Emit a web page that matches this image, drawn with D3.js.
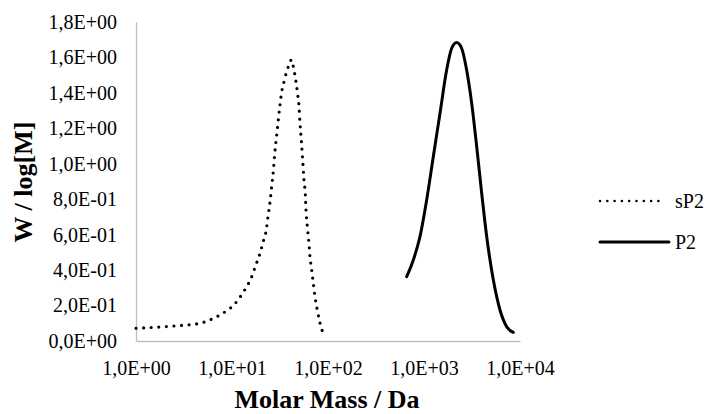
<!DOCTYPE html>
<html>
<head>
<meta charset="utf-8">
<script src="https://cdn.jsdelivr.net/npm/d3@7"></script>
<style>
  body { margin: 0; background: #fff; }
  svg text { font-family: "Liberation Serif", "Times New Roman", Times, serif; fill: #000; }
</style>
</head>
<body>
<svg id="chart" width="712" height="414"></svg>
<script>
// DATA
// ========================================================================
var xTicks = [1, 10, 100, 1000, 10000];
var yTicks = [0, 0.2, 0.4, 0.6, 0.8, 1.0, 1.2, 1.4, 1.6, 1.8];

// sP2 (dotted)
var sp2Mass = [1.0, 2.65, 4.64, 6.65, 8.8, 10.6, 11.8, 13.1, 14.4, 15.8, 16.9, 18.1, 19.3, 20.4,
               21.5, 22.6, 23.7, 24.9, 25.9, 27.0, 27.8, 29.6, 31.6, 33.2, 34.8, 37.1, 39.5, 41.5,
               44.2, 46.4, 47.9, 49.9, 51.1, 52.7, 54.5, 56.2, 58.1, 59.0, 60.9, 62.9, 64.9, 67.6,
               70.3, 73.2, 76.8, 81.2, 85.3, 93.8];
var sp2W    = [0.072, 0.086, 0.100, 0.132, 0.171, 0.207, 0.239, 0.275, 0.312, 0.354, 0.397, 0.442, 0.485, 0.529,
               0.574, 0.617, 0.702, 0.786, 0.871, 0.965, 1.050, 1.191, 1.332, 1.416, 1.463, 1.520, 1.563, 1.586,
               1.529, 1.463, 1.407, 1.322, 1.228, 1.134, 1.021, 0.909, 0.824, 0.739, 0.645, 0.570, 0.476, 0.401,
               0.325, 0.250, 0.184, 0.119, 0.072, 0.032];

// P2 (solid)
var p2Mass = [660, 774, 908, 1066, 1250, 1468, 1722, 1942, 2188, 2466, 2781, 3139, 3539, 3991, 4500, 5277, 6190, 7263, 8518];
var p2W    = [0.363, 0.457, 0.589, 0.796, 1.040, 1.285, 1.529, 1.652, 1.684, 1.652, 1.529, 1.341, 1.097, 0.833, 0.589, 0.344, 0.175, 0.081, 0.049];

var seriesNames = ["sP2", "P2"];
// ========================================================================

var AXIS_COLOR = "#bfbfbf";
var FONT = "'Liberation Serif', 'Times New Roman', Times, serif";
var TICK_SIZE = "20px";
var TITLE_SIZE = "26px";

function sciLabel(v) {
  if (v === 0) return "0,0E+00";
  var e = Math.floor(Math.log10(v) + 1e-9);
  var m = (v / Math.pow(10, e)).toFixed(1).replace(".", ",");
  var sign = e < 0 ? "-" : "+";
  var ae = Math.abs(e);
  return m + "E" + sign + (ae < 10 ? "0" + ae : ae);
}

var svg = d3.select("#chart");

var x = d3.scaleLog().domain([1, 10000]).range([136, 520]);
var y = d3.scaleLinear().domain([0, 1.8]).range([341, 22]);

// Axes
var yAxis = svg.append("g")
    .attr("transform", "translate(136,0)")
    .call(d3.axisLeft(y).tickValues(yTicks).tickSize(0).tickPadding(19).tickFormat(sciLabel));
var xAxis = svg.append("g")
    .attr("transform", "translate(0,341)")
    .call(d3.axisBottom(x).tickValues(xTicks).tickSize(0).tickPadding(20).tickFormat(sciLabel));

[xAxis, yAxis].forEach(function (g) {
  g.attr("font-family", null).attr("font-size", null);
  g.select(".domain").attr("stroke", AXIS_COLOR).attr("stroke-width", 1.3);
  g.selectAll("text").attr("fill", "#000")
    .style("font-size", TICK_SIZE)
    .style("font-family", FONT);
});

// Curves
var line = d3.line()
    .x(function (d) { return x(d[0]); })
    .y(function (d) { return y(d[1]); })
    .curve(d3.curveMonotoneX);

var sp2Data = d3.zip(sp2Mass, sp2W);
var p2Data = d3.zip(p2Mass, p2W);

svg.append("path")
    .datum(sp2Data)
    .attr("d", line)
    .attr("fill", "none")
    .attr("stroke", "#000")
    .attr("stroke-width", 3.2)
    .attr("stroke-linecap", "round")
    .attr("stroke-dasharray", "0,7.6");

svg.append("path")
    .datum(p2Data)
    .attr("d", line)
    .attr("fill", "none")
    .attr("stroke", "#000")
    .attr("stroke-width", 3)
    .attr("stroke-linecap", "round");

// Legend
var legend = svg.append("g");
var legendY = [201, 242];
seriesNames.forEach(function (name, i) {
  var l = legend.append("line")
      .attr("x1", 600).attr("x2", 669)
      .attr("y1", legendY[i]).attr("y2", legendY[i])
      .attr("stroke", "#000")
      .attr("stroke-linecap", "round");
  if (i === 0) {
    l.attr("stroke-width", 2.6).attr("stroke-dasharray", "0,7.3").attr("x2", 660);
  } else {
    l.attr("stroke-width", 3);
  }
  legend.append("text")
      .attr("x", 675).attr("y", legendY[i])
      .attr("dy", "0.33em")
      .style("font-size", TICK_SIZE)
      .style("font-family", FONT)
      .text(name);
});

// Axis titles
svg.append("text")
    .attr("x", 327).attr("y", 408)
    .attr("text-anchor", "middle")
    .style("font-size", TITLE_SIZE)
    .style("font-weight", "bold")
    .style("font-family", FONT)
    .text("Molar Mass / Da");

svg.append("text")
    .attr("transform", "translate(32,182) rotate(-90)")
    .attr("text-anchor", "middle")
    .style("font-size", TITLE_SIZE)
    .style("font-weight", "bold")
    .style("font-family", FONT)
    .text("W /  log[M]");
</script>
</body>
</html>
